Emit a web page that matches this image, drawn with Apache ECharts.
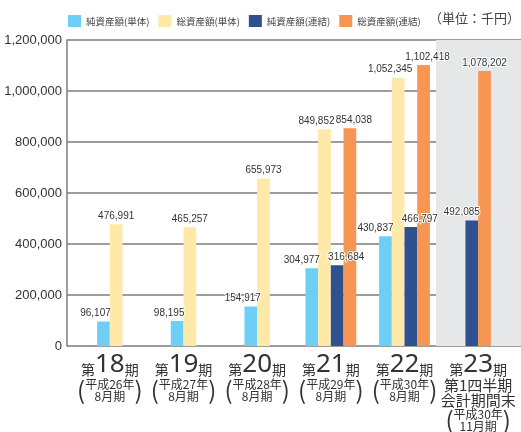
<!DOCTYPE html>
<html><head><meta charset="utf-8">
<script src="https://cdn.jsdelivr.net/npm/echarts@6/dist/echarts.min.js"></script>
<style>html,body{margin:0;padding:0;background:#fff}#c{width:521px;height:432px}</style>
</head><body><div id="c"></div>
<script>
// ---- data ----
const periods = ['18', '19', '20', '21', '22', '23'];
const quarterNotes = [[], [], [], [], [], ['第1四半期', '会計期間末']];
const eraYears = ['平成26年', '平成27年', '平成28年', '平成29年', '平成30年', '平成30年'];
const monthLabels = ['8月期', '8月期', '8月期', '8月期', '8月期', '11月期'];
const netSolo = [96107, 98195, 154917, 304977, 430837, null];
const totalSolo = [476991, 465257, 655973, 849852, 1052345, null];
const netConsol = [null, null, null, 316684, 466797, 492085];
const totalConsol = [null, null, null, 854038, 1102418, 1078202];
const yTicks = [0, 200000, 400000, 600000, 800000, 1000000, 1200000];
const seriesNames = ['純資産額(単体)', '総資産額(単体)', '純資産額(連結)', '総資産額(連結)'];
const unitText = '（単位：千円）';

// ---- styles ----
const colors = ['#6DCFF6', '#FFE9A9', '#30518F', '#F79552'];
const labelOffsets = [
  [[-8, 0], [-10, 0], [0, 0]],
  [[0, 0], [-8, 0], [0, 0]],
  [[0, 0], [9, 0], [-10, 0]],
  [[0, 0], [4, 0], [0, 0]]
];
const allValues = [netSolo, totalSolo, netConsol, totalConsol];
const fmt = v => String(v).replace(/\B(?=(\d{3})+(?!\d))/g, ',');
// group: 0 = only solo, 1 = solo+consol, 2 = only consol
const groupOf = i => {
  const solo = netSolo[i] != null || totalSolo[i] != null;
  const cons = netConsol[i] != null || totalConsol[i] != null;
  return solo && cons ? 1 : (cons ? 2 : 0);
};

const series = [];
for (let g = 0; g < 3; g++) {
  allValues.forEach((vals, s) => {
    const data = vals.map((v, i) => (groupOf(i) === g && v != null) ? v : '-');
    if (!data.some(d => d !== '-')) return;
    series.push({
      type: 'bar', name: seriesNames[s], xAxisIndex: g + 1, yAxisIndex: 1,
      data, barWidth: 12.7, barGap: '0%',
      itemStyle: { color: colors[s] },
      label: {
        show: true, position: 'top', distance: 3, offset: labelOffsets[s][g],
        formatter: p => fmt(p.value),
        fontFamily: '"Liberation Sans", sans-serif',
        fontSize: 10, color: '#333', textBorderColor: '#fff', textBorderWidth: 2
      }
    });
  });
}
// background shading for last period
series.push({
  type: 'line', xAxisIndex: 0, yAxisIndex: 0, data: [], z: -1, silent: true,
  markArea: { silent: true, itemStyle: { color: '#E6E7E9' }, data: [[{ xAxis: 0.8128 }, { xAxis: 1 }]] }
});

const catLabel = (val, idx) => {
  let s = '{s|第}{big|' + periods[idx] + '}{s|期}';
  quarterNotes[idx].forEach(t => { s += '\n{q|' + t + '}'; });
  s += '\n{p|(}{t|' + eraYears[idx] + '}{p|)}\n{t|' + monthLabels[idx] + '}';
  return s;
};

const jp = '"Noto Sans CJK JP", sans-serif';
const option = {
  animation: false,
  color: colors,
  legend: {
    left: 63, top: 10, itemWidth: 13, itemHeight: 12, itemGap: 9, icon: 'rect',
    data: seriesNames,
    textStyle: { fontFamily: jp, fontSize: 9.5, color: '#444' }
  },
  title: {
    text: unitText, left: 424, top: 7,
    textStyle: { fontFamily: jp, fontSize: 13, fontWeight: 'normal', color: '#444' }
  },
  grid: [
    { left: 67, right: 0, top: 40, bottom: 86 },
    { left: 73, right: 6, top: 40, bottom: 86 }
  ],
  xAxis: [
    { type: 'value', gridIndex: 0, min: 0, max: 1, show: false },
    {
      type: 'category', gridIndex: 1, data: periods,
      axisLine: { show: false }, axisTick: { show: false },
      axisLabel: {
        interval: 0, margin: 6, formatter: catLabel, color: '#333', fontFamily: jp,
        rich: {
          s: { fontSize: 14, fontFamily: jp, color: '#333', lineHeight: 26, verticalAlign: 'bottom', padding: [0, 0, 1, 0] },
          big: { fontSize: 26, fontFamily: '"Noto Sans", sans-serif', color: '#333', lineHeight: 26, verticalAlign: 'bottom' },
          q: { fontSize: 15, fontFamily: jp, color: '#333', lineHeight: 15 },
          t: { fontSize: 12, fontFamily: jp, color: '#333', lineHeight: 12 },
          p: { fontSize: 24, fontFamily: jp, color: '#333', lineHeight: 12, verticalAlign: 'top' }
        }
      }
    },
    { type: 'category', gridIndex: 1, data: periods, show: false },
    { type: 'category', gridIndex: 1, data: periods, show: false }
  ],
  yAxis: [
    {
      type: 'value', gridIndex: 0, min: 0, max: 1200000, interval: 200000,
      axisLine: { show: true, lineStyle: { color: '#7d7d7d', width: 1.5 } },
      axisTick: { show: false },
      splitLine: { lineStyle: { color: '#7d7d7d', width: 1.5 } },
      axisLabel: {
        margin: 5, color: '#333', fontSize: 13,
        fontFamily: '"Liberation Sans", sans-serif',
        formatter: v => yTicks.includes(v) ? fmt(v) : ''
      }
    },
    { type: 'value', gridIndex: 1, min: 0, max: 1200000, show: false }
  ],
  series
};
echarts.init(document.getElementById('c'), null, { renderer: 'canvas' }).setOption(option);
</script></body></html>
